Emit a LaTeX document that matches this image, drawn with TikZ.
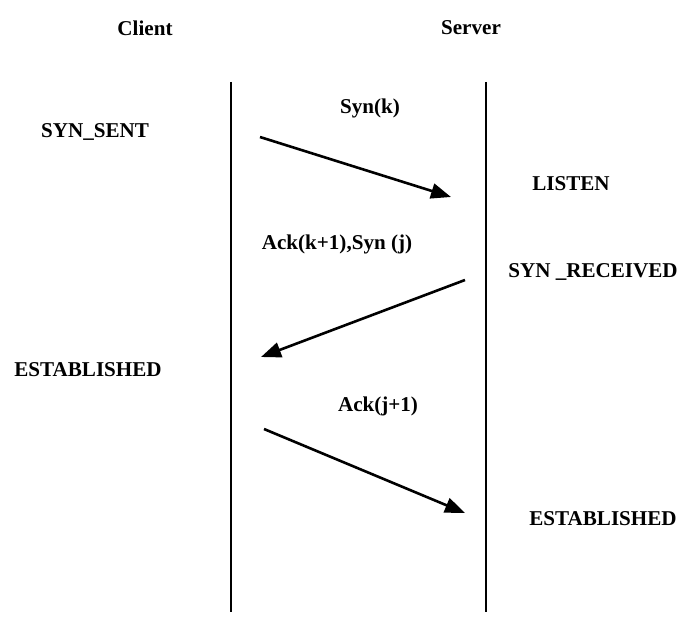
\documentclass[tikz,border=0pt]{standalone}
\usepackage{fontspec}
\setmainfont{Liberation Serif}
\usetikzlibrary{arrows.meta}
\begin{document}
\begin{tikzpicture}[x=0.25mm,y=-0.25mm,
    lbl/.style={font=\fontsize{15}{18}\selectfont\bfseries,inner sep=0pt},
    msg/.style={line width=0.65mm,-{Triangle[length=5mm,width=3.8mm]}}]
    \useasboundingbox (0,0) rectangle (681,627);
    \node[lbl] (client) at (145,28) {Client};
    \node[lbl] (server) at (471,28) {Server};
    \coordinate (ctop) at (231,82);  \coordinate (cbot) at (231,612);
    \coordinate (stop) at (486,82);  \coordinate (sbot) at (486,612);
    \draw[line width=0.5mm] (ctop) -- (cbot);
    \draw[line width=0.5mm] (stop) -- (sbot);
    \node[lbl] (synk) at (370,108) {Syn(k)};
    \node[lbl] (synsent) at (95,132) {SYN\_SENT};
    \node[lbl] (listen) at (571,184) {LISTEN};
    \node[lbl] (acksyn) at (337,244) {Ack(k+1),Syn (j)};
    \node[lbl] (synrcvd) at (593,272) {SYN \_RECEIVED};
    \node[lbl] (estc) at (88,370) {ESTABLISHED};
    \node[lbl] (ackj) at (378,406) {Ack(j+1)};
    \node[lbl] (ests) at (603,519) {ESTABLISHED};
    \coordinate (a1) at (260,137); \coordinate (b1) at (451,197);
    \coordinate (a2) at (465,280); \coordinate (b2) at (261,357);
    \coordinate (a3) at (264,429); \coordinate (b3) at (465,513);
    \draw[msg] (a1) -- (b1);
    \draw[msg] (a2) -- (b2);
    \draw[msg] (a3) -- (b3);
\end{tikzpicture}
\end{document}
